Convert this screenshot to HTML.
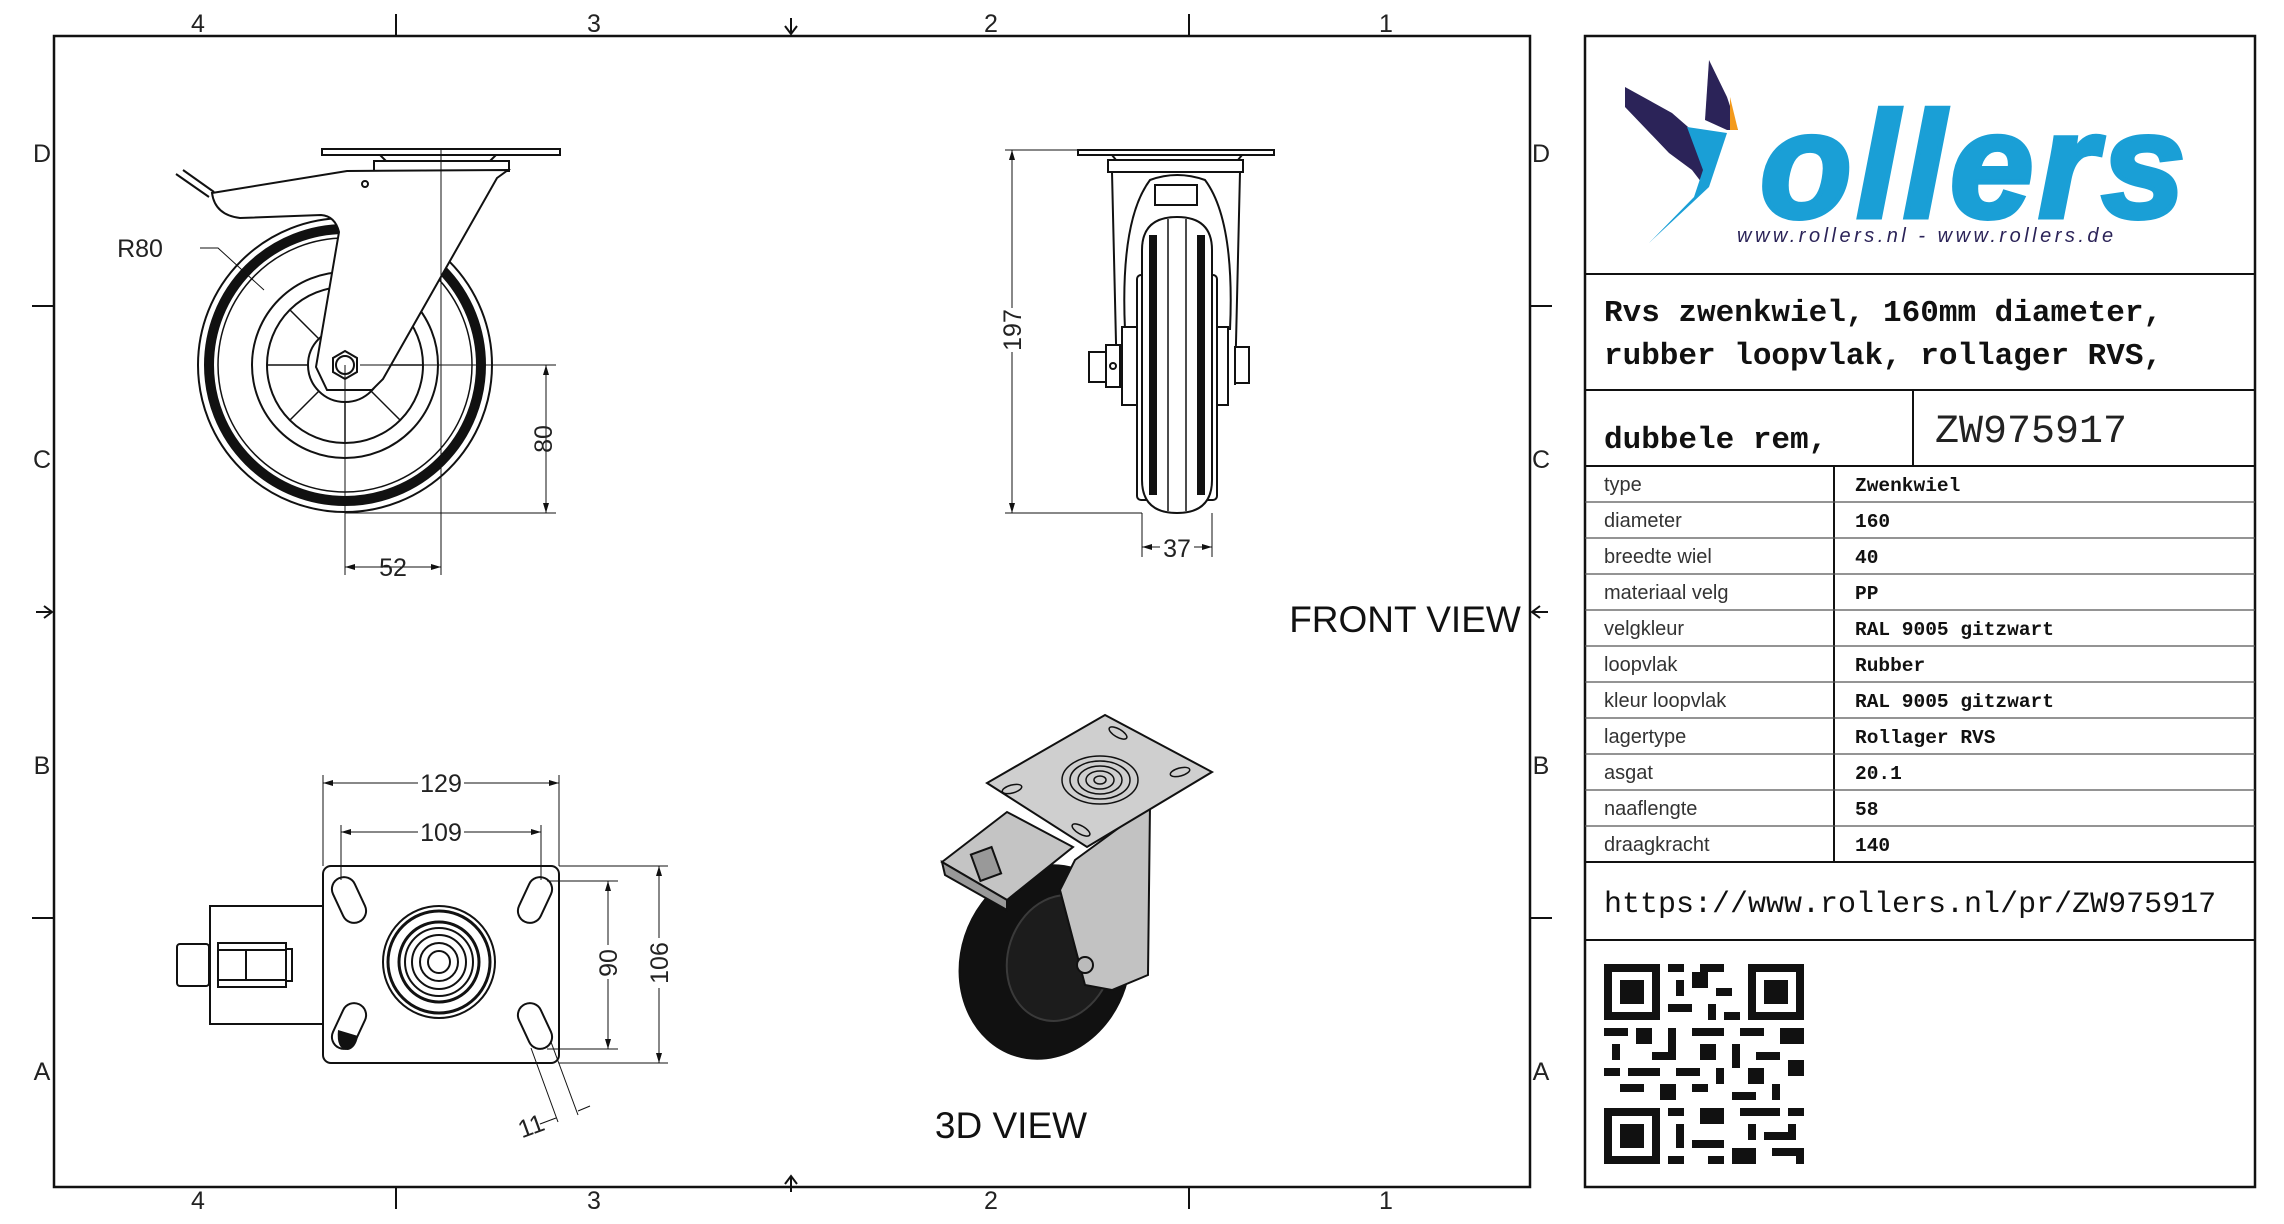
<!DOCTYPE html>
<html><head><meta charset="utf-8"><style>
html,body{margin:0;padding:0;background:#fff;}
svg{display:block}
.r{font-family:"Liberation Sans",sans-serif;font-size:25px;fill:#222}
.d{font-family:"Liberation Sans",sans-serif;font-size:25px;fill:#222}
.lb{font-family:"Liberation Sans",sans-serif;font-size:20px;fill:#333}
.vl{font-family:"Liberation Mono",monospace;font-size:19.5px;font-weight:bold;fill:#111}
.tt{font-family:"Liberation Mono",monospace;font-size:31px;font-weight:bold;fill:#111}
</style></head><body>
<svg width="2284" height="1224" viewBox="0 0 2284 1224" xmlns="http://www.w3.org/2000/svg">
<rect width="2284" height="1224" fill="#fff"/>
<!-- frame -->
<rect x="54" y="36" width="1476" height="1151" fill="none" stroke="#111" stroke-width="2.5"/>
<rect x="1585" y="36" width="670" height="1151" fill="none" stroke="#111" stroke-width="2.5"/>
<!-- ruler -->
<g class="r" text-anchor="middle">
<text x="198" y="32">4</text><text x="594" y="32">3</text><text x="991" y="32">2</text><text x="1386" y="32">1</text>
<text x="198" y="1209">4</text><text x="594" y="1209">3</text><text x="991" y="1209">2</text><text x="1386" y="1209">1</text>
<text x="42" y="162">D</text><text x="42" y="468">C</text><text x="42" y="774">B</text><text x="42" y="1080">A</text>
<text x="1541" y="162">D</text><text x="1541" y="468">C</text><text x="1541" y="774">B</text><text x="1541" y="1080">A</text>
</g>
<g stroke="#111" stroke-width="2" fill="none">
<line x1="396" y1="14" x2="396" y2="36"/><line x1="1189" y1="14" x2="1189" y2="36"/>
<line x1="396" y1="1187" x2="396" y2="1209"/><line x1="1189" y1="1187" x2="1189" y2="1209"/>
<line x1="32" y1="306" x2="54" y2="306"/><line x1="32" y1="918" x2="54" y2="918"/>
<line x1="1530" y1="306" x2="1552" y2="306"/><line x1="1530" y1="918" x2="1552" y2="918"/>
<path d="M791 18v16M785 26l6 8 6-8"/><path d="M791 1192v-16M785 1184l6-8 6 8"/>
<path d="M36 612h16M44 606l8 6-8 6"/><path d="M1548 612h-16M1540 606l-8 6 8 6"/>
</g>

<!-- SIDE VIEW -->
<g stroke="#111" fill="none" stroke-width="2">
<circle cx="345" cy="365" r="147"/>
<circle cx="345" cy="365" r="136" stroke-width="10"/>
<circle cx="345" cy="365" r="127" stroke-width="1.5"/>
<circle cx="345" cy="365" r="93"/>
<circle cx="345" cy="365" r="78"/>
<circle cx="345" cy="365" r="37"/>
<g stroke-width="1.5">
<line x1="345" y1="328" x2="345" y2="287"/><line x1="345" y1="402" x2="345" y2="443"/>
<line x1="308" y1="365" x2="267" y2="365"/><line x1="382" y1="365" x2="423" y2="365"/>
<line x1="319" y1="339" x2="290" y2="310"/><line x1="371" y1="391" x2="400" y2="420"/>
<line x1="319" y1="391" x2="290" y2="420"/><line x1="371" y1="339" x2="400" y2="310"/>
</g>
<rect x="322" y="149" width="238" height="6" fill="#fff"/>
<path d="M380 155h116l-6 6h-104z"/>
<rect x="374" y="161" width="135" height="10" fill="#fff"/>
<path d="M212 193 L347 171 L508 170 L497 178 L383 379 L372 390 L327 390 L316 367 L339 232 Q335 216 321 215 L240 218 Q215 215 212 193 Z" fill="#fff"/>
<path d="M176 174 L209 197 M183 170 L214 192"/>
<circle cx="365" cy="184" r="3"/>
<polygon points="345,351 357,358 357,372 345,379 333,372 333,358" fill="#fff"/>
<circle cx="345" cy="365" r="9"/>
</g>
<g stroke="#111" stroke-width="1" fill="none">
<line x1="441" y1="150" x2="441" y2="575"/>
<line x1="345" y1="365" x2="345" y2="575"/>
<line x1="360" y1="365" x2="556" y2="365"/><line x1="345" y1="513" x2="556" y2="513"/>
<line x1="546" y1="365" x2="546" y2="513"/>
<line x1="345" y1="567" x2="441" y2="567"/>
<path d="M200 248 L218 248 L264 290"/>
</g>
<path d="M546 365l-3 10h6zM546 513l-3-10h6zM345 567l10-3v6zM441 567l-10-3v6z" fill="#111"/>
<text class="d" x="140" y="257" text-anchor="middle">R80</text>
<text class="d" x="393" y="576" text-anchor="middle">52</text>
<text class="d" transform="translate(552 439) rotate(-90)" text-anchor="middle">80</text>

<!-- FRONT VIEW -->
<g stroke="#111" fill="none" stroke-width="2">
<rect x="1078" y="150" width="196" height="5" fill="#fff"/>
<path d="M1112 155h130l-4 5h-122z"/>
<rect x="1108" y="160" width="135" height="12"/>
<path d="M1112 172 L1117 385 M1240 172 L1235 385"/>
<path d="M1125 330 Q1120 220 1150 180 Q1177 170 1205 180 Q1235 220 1230 330"/>
<rect x="1155" y="185" width="42" height="20" fill="#fff"/>
<rect x="1122" y="327" width="106" height="78" fill="#fff"/>
<rect x="1137" y="275" width="80" height="225" rx="4" fill="#fff"/>
<path d="M1142 250 Q1142 217 1177 217 Q1212 217 1212 250 L1212 480 Q1212 513 1177 513 Q1142 513 1142 480 Z" fill="#fff"/>
<path d="M1153 235 V495 M1201 235 V495" stroke-width="8"/>
<path d="M1168 219 V511 M1186 219 V511" stroke-width="1.5"/>
<rect x="1235" y="347" width="14" height="36" fill="#fff"/>
<rect x="1106" y="345" width="14" height="42" fill="#fff"/>
<rect x="1089" y="352" width="17" height="30" fill="#fff"/>
<circle cx="1113" cy="366" r="3"/>
</g>
<g stroke="#111" stroke-width="1" fill="none">
<line x1="1005" y1="150" x2="1078" y2="150"/><line x1="1005" y1="513" x2="1142" y2="513"/>
<line x1="1012" y1="150" x2="1012" y2="513"/>
<line x1="1142" y1="513" x2="1142" y2="557"/><line x1="1212" y1="513" x2="1212" y2="557"/>
<line x1="1142" y1="547" x2="1212" y2="547"/>
</g>
<path d="M1012 150l-3 10h6zM1012 513l-3-10h6zM1142 547l10-3v6zM1212 547l-10-3v6z" fill="#111"/>
<rect x="1000" y="308" width="24" height="44" fill="#fff"/>
<text class="d" transform="translate(1021 330) rotate(-90)" text-anchor="middle">197</text>
<rect x="1160" y="537" width="34" height="20" fill="#fff"/>
<text class="d" x="1177" y="557" text-anchor="middle">37</text>
<text x="1405" y="632" text-anchor="middle" style="font-family:'Liberation Sans',sans-serif;font-size:37px;fill:#111">FRONT VIEW</text>

<!-- BOTTOM VIEW -->
<g stroke="#111" fill="none" stroke-width="2">
<rect x="210" y="906" width="113" height="118"/>
<rect x="218" y="943" width="68" height="44"/>
<line x1="218" y1="950" x2="286" y2="950"/><line x1="218" y1="980" x2="286" y2="980"/><line x1="246" y1="950" x2="246" y2="980"/>
<rect x="286" y="949" width="6" height="32"/>
<rect x="177" y="944" width="32" height="42" rx="3"/>
<rect x="323" y="866" width="236" height="197" rx="8" fill="#fff"/>
<g transform="translate(349 900) rotate(-25)"><rect x="-12" y="-24" width="24" height="48" rx="12"/></g>
<g transform="translate(535 900) rotate(25)"><rect x="-12" y="-24" width="24" height="48" rx="12"/></g>
<g transform="translate(349 1026) rotate(25)"><rect x="-12" y="-24" width="24" height="48" rx="12"/></g>
<g transform="translate(535 1026) rotate(-25)"><rect x="-12" y="-24" width="24" height="48" rx="12"/></g>
<circle cx="439" cy="962" r="56"/><circle cx="439" cy="962" r="51" stroke-width="3"/>
<circle cx="439" cy="962" r="40" stroke-width="3"/><circle cx="439" cy="962" r="34"/>
<circle cx="439" cy="962" r="27"/><circle cx="439" cy="962" r="19"/><circle cx="439" cy="962" r="11"/>
</g>
<path d="M338 1030 Q336 1050 348 1050 Q356 1048 358 1036 Z" fill="#111"/>
<g stroke="#111" stroke-width="1" fill="none">
<line x1="323" y1="775" x2="323" y2="866"/><line x1="559" y1="775" x2="559" y2="866"/>
<line x1="323" y1="783" x2="559" y2="783"/>
<line x1="341" y1="825" x2="341" y2="880"/><line x1="541" y1="825" x2="541" y2="880"/>
<line x1="341" y1="832" x2="541" y2="832"/>
<line x1="547" y1="881" x2="618" y2="881"/><line x1="547" y1="1049" x2="618" y2="1049"/>
<line x1="608" y1="881" x2="608" y2="1049"/>
<line x1="559" y1="866" x2="668" y2="866"/><line x1="559" y1="1063" x2="668" y2="1063"/>
<line x1="659" y1="866" x2="659" y2="1063"/>
<line x1="531" y1="1048" x2="558" y2="1122"/><line x1="551" y1="1042" x2="578" y2="1115"/>
<line x1="540" y1="1124" x2="556" y2="1118"/><line x1="578" y1="1111" x2="590" y2="1106"/>
</g>
<path d="M323 783l10-3v6zM559 783l-10-3v6zM341 832l10-3v6zM541 832l-10-3v6zM608 881l-3 10h6zM608 1049l-3-10h6zM659 866l-3 10h6zM659 1063l-3-10h6z" fill="#111"/>
<rect x="418" y="770" width="46" height="26" fill="#fff"/><text class="d" x="441" y="792" text-anchor="middle">129</text>
<rect x="418" y="819" width="46" height="26" fill="#fff"/><text class="d" x="441" y="841" text-anchor="middle">109</text>
<rect x="596" y="945" width="24" height="34" fill="#fff"/><text class="d" transform="translate(617 963) rotate(-90)" text-anchor="middle">90</text>
<rect x="647" y="938" width="24" height="50" fill="#fff"/><text class="d" transform="translate(668 963) rotate(-90)" text-anchor="middle">106</text>
<text class="d" transform="translate(534 1134) rotate(-20)" text-anchor="middle">11</text>

<!-- 3D VIEW -->
<g stroke="#111" stroke-width="2">
<ellipse cx="1045" cy="962" rx="84" ry="98" transform="rotate(18 1045 962)" fill="#111"/>
<ellipse cx="1060" cy="958" rx="52" ry="64" transform="rotate(18 1060 958)" fill="#1c1c1c" stroke="#3a3a3a"/>
<polygon points="1075,860 1150,805 1148,975 1112,990 1085,985 1060,890" fill="#c2c2c2"/>
<polygon points="942,862 1007,812 1073,847 1007,900" fill="#c4c4c4"/>
<polygon points="942,862 1007,900 1007,910 945,875" fill="#999"/>
<rect x="975" y="850" width="22" height="28" fill="#999" transform="rotate(-20 986 864)"/>
<polygon points="1105,715 1212,772 1087,847 987,783" fill="#cfcfcf"/>
<circle cx="1085" cy="965" r="8" fill="#bbb"/>
</g>
<g stroke="#111" stroke-width="1.5" fill="none">
<ellipse cx="1100" cy="780" rx="38" ry="24"/><ellipse cx="1100" cy="780" rx="30" ry="19"/>
<ellipse cx="1100" cy="780" rx="22" ry="14"/><ellipse cx="1100" cy="780" rx="14" ry="9"/><ellipse cx="1100" cy="780" rx="6" ry="4"/>
<ellipse cx="1118" cy="733" rx="10" ry="4" transform="rotate(30 1118 733)"/>
<ellipse cx="1180" cy="772" rx="10" ry="4" transform="rotate(-15 1180 772)"/>
<ellipse cx="1012" cy="789" rx="10" ry="4" transform="rotate(-15 1012 789)"/>
<ellipse cx="1081" cy="830" rx="10" ry="4" transform="rotate(30 1081 830)"/>
</g>
<text x="1011" y="1138" text-anchor="middle" style="font-family:'Liberation Sans',sans-serif;font-size:37px;fill:#111">3D VIEW</text>

<!-- RIGHT PANEL -->
<g stroke="#111" stroke-width="2">
<line x1="1585" y1="274" x2="2255" y2="274"/>
<line x1="1585" y1="390" x2="2255" y2="390"/>
<line x1="1585" y1="466" x2="2255" y2="466"/>
<line x1="1913" y1="390" x2="1913" y2="466"/>
<line x1="1834" y1="466" x2="1834" y2="862"/>
<line x1="1585" y1="862" x2="2255" y2="862"/>
<line x1="1585" y1="940" x2="2255" y2="940"/>
</g>
<g stroke="#555" stroke-width="1.2">
<line x1="1585" y1="502" x2="2255" y2="502"/><line x1="1585" y1="538" x2="2255" y2="538"/>
<line x1="1585" y1="574" x2="2255" y2="574"/><line x1="1585" y1="610" x2="2255" y2="610"/>
<line x1="1585" y1="646" x2="2255" y2="646"/><line x1="1585" y1="682" x2="2255" y2="682"/>
<line x1="1585" y1="718" x2="2255" y2="718"/><line x1="1585" y1="754" x2="2255" y2="754"/>
<line x1="1585" y1="790" x2="2255" y2="790"/><line x1="1585" y1="826" x2="2255" y2="826"/>
</g>
<!-- logo -->
<polygon points="1625,87 1672,113 1703,140 1705,187 1692,170 1669,153 1625,107" fill="#2b2358"/>
<polygon points="1709,60 1727,97 1738,130 1727,130 1705,120" fill="#2b2358"/>
<polygon points="1730,97 1738,130 1730,130" fill="#f39a1c"/>
<polygon points="1687,127 1727,133 1709,187 1692,203 1649,243 1694,197 1703,170" fill="#1a9fd6"/>
<text x="1760" y="217" style="font-family:'Liberation Sans',sans-serif;font-size:150px;font-weight:bold;font-style:italic;fill:#1a9fd6;stroke:#1a9fd6;stroke-width:5;letter-spacing:5px">ollers</text>
<text x="1737" y="242" style="font-family:'Liberation Sans',sans-serif;font-size:20px;font-style:italic;fill:#2b2358;letter-spacing:3.5px">www.rollers.nl  -  www.rollers.de</text>
<text class="tt" x="1604" y="321">Rvs zwenkwiel, 160mm diameter,</text>
<text class="tt" x="1604" y="364">rubber loopvlak, rollager RVS,</text>
<text class="tt" x="1604" y="448">dubbele rem,</text>
<text x="1935" y="442" style="font-family:'Liberation Mono',monospace;font-size:40px;fill:#222">ZW975917</text>
<g class="lb">
<text x="1604" y="491">type</text><text x="1604" y="527">diameter</text><text x="1604" y="563">breedte wiel</text>
<text x="1604" y="599">materiaal velg</text><text x="1604" y="635">velgkleur</text><text x="1604" y="671">loopvlak</text>
<text x="1604" y="707">kleur loopvlak</text><text x="1604" y="743">lagertype</text><text x="1604" y="779">asgat</text>
<text x="1604" y="815">naaflengte</text><text x="1604" y="851">draagkracht</text>
</g>
<g class="vl">
<text x="1855" y="491">Zwenkwiel</text><text x="1855" y="527">160</text><text x="1855" y="563">40</text>
<text x="1855" y="599">PP</text><text x="1855" y="635">RAL 9005 gitzwart</text><text x="1855" y="671">Rubber</text>
<text x="1855" y="707">RAL 9005 gitzwart</text><text x="1855" y="743">Rollager RVS</text><text x="1855" y="779">20.1</text>
<text x="1855" y="815">58</text><text x="1855" y="851">140</text>
</g>
<text x="1604" y="912" style="font-family:'Liberation Mono',monospace;font-size:30px;fill:#111">https://www.rollers.nl/pr/ZW975917</text>
<!-- QR -->
<g fill="#111" transform="translate(1604 964)">
<rect x="0" y="0" width="56" height="56"/><rect x="8" y="8" width="40" height="40" fill="#fff"/><rect x="16" y="16" width="24" height="24"/>
<rect x="144" y="0" width="56" height="56"/><rect x="152" y="8" width="40" height="40" fill="#fff"/><rect x="160" y="16" width="24" height="24"/>
<rect x="0" y="144" width="56" height="56"/><rect x="8" y="152" width="40" height="40" fill="#fff"/><rect x="16" y="160" width="24" height="24"/>
<rect x="64" y="0" width="16" height="8"/><rect x="96" y="0" width="24" height="8"/><rect x="72" y="16" width="8" height="16"/><rect x="88" y="8" width="16" height="16"/>
<rect x="112" y="24" width="16" height="8"/><rect x="64" y="40" width="24" height="8"/><rect x="104" y="40" width="8" height="16"/><rect x="120" y="48" width="16" height="8"/>
<rect x="0" y="64" width="24" height="8"/><rect x="32" y="64" width="16" height="16"/><rect x="64" y="64" width="8" height="24"/><rect x="88" y="64" width="32" height="8"/>
<rect x="136" y="64" width="24" height="8"/><rect x="176" y="64" width="24" height="16"/><rect x="8" y="80" width="8" height="16"/><rect x="48" y="88" width="24" height="8"/>
<rect x="96" y="80" width="16" height="16"/><rect x="128" y="80" width="8" height="24"/><rect x="152" y="88" width="24" height="8"/><rect x="0" y="104" width="16" height="8"/>
<rect x="24" y="104" width="32" height="8"/><rect x="72" y="104" width="24" height="8"/><rect x="112" y="104" width="8" height="16"/><rect x="144" y="104" width="16" height="16"/>
<rect x="184" y="96" width="16" height="16"/><rect x="16" y="120" width="24" height="8"/><rect x="56" y="120" width="16" height="16"/><rect x="88" y="120" width="16" height="8"/>
<rect x="128" y="128" width="24" height="8"/><rect x="168" y="120" width="8" height="16"/><rect x="64" y="144" width="16" height="8"/><rect x="96" y="144" width="24" height="16"/>
<rect x="136" y="144" width="40" height="8"/><rect x="184" y="144" width="16" height="8"/><rect x="72" y="160" width="8" height="24"/><rect x="144" y="160" width="8" height="16"/>
<rect x="160" y="168" width="24" height="8"/><rect x="88" y="176" width="32" height="8"/><rect x="128" y="184" width="24" height="16"/><rect x="64" y="192" width="16" height="8"/>
<rect x="168" y="184" width="32" height="8"/><rect x="184" y="160" width="8" height="16"/><rect x="104" y="192" width="16" height="8"/><rect x="192" y="192" width="8" height="8"/>
</g>
</svg>
</body></html>
